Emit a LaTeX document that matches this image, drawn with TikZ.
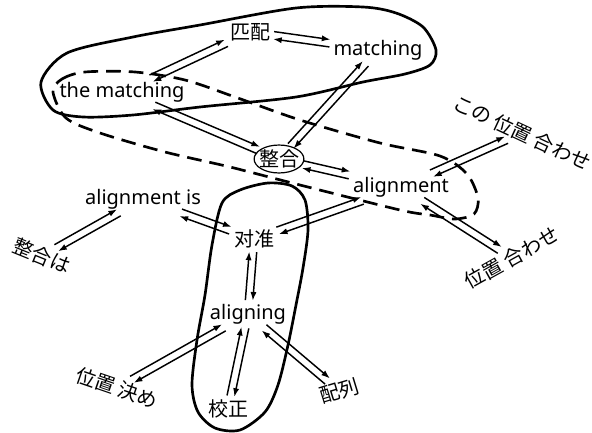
\documentclass[tikz,border=0pt]{standalone}
\usepackage{fontspec}
\setmainfont{Noto Sans}
\newfontfamily\jpfont{Noto Sans CJK JP}
\usetikzlibrary{arrows.meta,shapes.geometric,calc}
\tikzset{
x=0.75pt, y=-0.75pt, % one unit = one pixel, y runs downwards
every node/.style={font=\fontsize{15}{18}\selectfont, inner sep=2.5pt},
jp/.style={font=\fontsize{15}{18}\selectfont\jpfont}, % japanese labels
circled/.style={ellipse, draw, line width=0.9pt, inner xsep=-1.8pt, inner ysep=0.5pt},
tip/.style={-{Latex[length=6.5pt,width=4.6pt]}, line width=1.1pt},
group/.style={line width=2pt}, % outline round a cluster of terms
dashgroup/.style={group, dash pattern=on 11pt off 6pt},
}
% two arrows side by side, one each way
\newcommand{\pair}[2]{%
  \path (#1) -- (#2) coordinate[pos=0] (p) coordinate[pos=1] (q);
  \draw[tip] ($(p)!2.8pt!90:(q)$) -- ($(q)!2.8pt!-90:(p)$);
  \draw[tip] ($(q)!2.8pt!90:(p)$) -- ($(p)!2.8pt!-90:(q)$);
}

\begin{document}
\begin{tikzpicture}
\useasboundingbox (0,0) rectangle (592,432);

\node[jp] (pipei) at (250,32) {匹配};
\node (matching) at (378,50) {matching};
\node (thematching) at (122,92) {the matching};
\node[jp, circled] (seigou) at (279,159) {整合};
\node (alignment) at (401,187) {alignment};
\node (alignis) at (143,199) {alignment is};
\node[jp, rotate=-22] (seigouwa) at (42,256) {整合は};
\node[jp] (duizhun) at (254,239) {对准};
\node (aligning) at (248,314) {aligning};
\node[jp] (jiaozheng) at (228,409) {校正};
\node[jp, rotate=17] (hairetsu) at (339,391) {配列};
\node[jp, rotate=-19] (kime) at (117,388) {位置 決め};
\node[jp, rotate=29] (awase) at (512,258) {位置 合わせ};
\node[jp, rotate=-25] (kono) at (522,133) {この 位置 合わせ};

% clusters
\draw[group] plot[smooth cycle] coordinates {
  (41,82) (67,53) (133,37) (200,25) (296,8) (363,7) (396,13)
  (423,27) (436,50) (430,65) (405,74) (363,82) (296,97)
  (200,107) (133,115) (83,117) (53,110)};
\draw[dashgroup] plot[smooth cycle] coordinates {
  (53,92) (62,79) (85,72) (135,72) (185,80) (235,97) (300,120)
  (380,143) (440,156) (467,174) (478,198) (474,214) (455,219)
  (430,215) (400,210) (300,185) (230,167) (165,152) (100,133) (66,118)};
\draw[group] plot[smooth cycle] coordinates {
  (222,203) (240,190) (268,183) (292,186) (305,200) (308,230)
  (303,268) (296,305) (288,345) (278,385) (265,412) (240,430)
  (215,428) (198,412) (192,385) (197,340) (205,295) (212,245)};

% links
\pair{thematching}{pipei}
\pair{pipei}{matching}
\pair{thematching}{seigou}
\pair{matching}{seigou}
\pair{seigou}{alignment}
\pair{alignment}{kono}
\pair{alignment}{awase}
\pair{alignment}{duizhun}
\pair{alignis}{duizhun}
\pair{alignis}{seigouwa}
\pair{duizhun}{aligning}
\pair{aligning}{kime}
\pair{aligning}{jiaozheng}
\pair{aligning}{hairetsu}

\end{tikzpicture}
\end{document}
